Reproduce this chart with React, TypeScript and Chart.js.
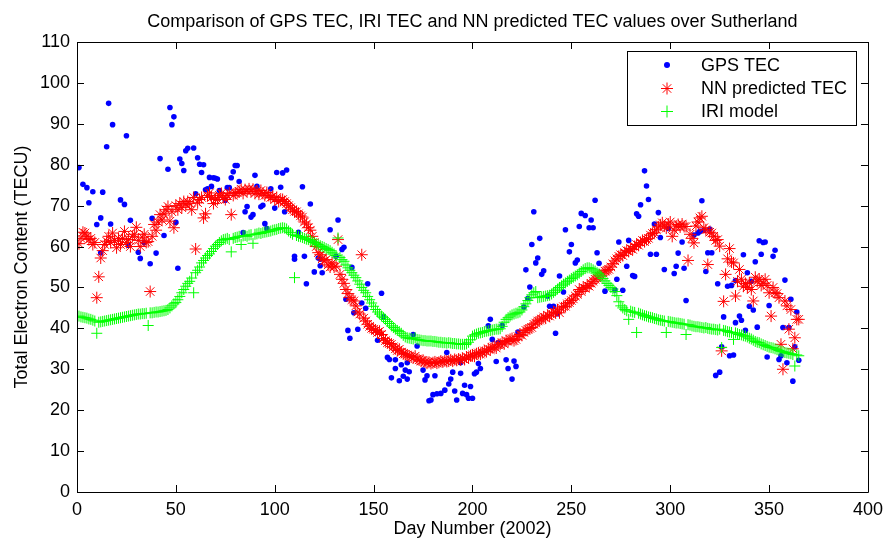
import { useEffect, useRef } from 'react';
import { Chart, registerables } from 'chart.js';

Chart.register(...registerables);

const FONT = '"Liberation Sans", Arial, Helvetica, sans-serif';

const titleText = 'Comparison of GPS TEC, IRI TEC and NN predicted TEC values over Sutherland';
const xTitle = 'Day Number (2002)';
const yTitle = 'Total Electron Content (TECU)';
const seriesNames = ['GPS TEC', 'NN predicted TEC', 'IRI model'];
const xTicks = [0, 50, 100, 150, 200, 250, 300, 350, 400];
const yTicks = [0, 10, 20, 30, 40, 50, 60, 70, 80, 90, 100, 110];

// GPS TEC observations: day numbers and values
const gpsDay = [
  1,3,5,6,8,10,12,12,13,15,
  16,17,18,22,24,25,26,27,31,32,
  34,37,38,40,42,44,46,47,48,49,
  50,51,52,53,54,55,56,59,60,61,
  62,63,64,65,66,67,68,69,70,71,
  72,75,76,77,78,79,80,81,82,84,
  85,86,88,89,90,91,93,94,95,96,
  98,100,101,103,104,105,106,110,110,112,
  114,115,116,118,120,122,123,123,124,128,
  131,132,134,135,136,137,138,139,140,142,
  144,146,147,152,154,155,157,158,159,161,
  161,163,164,165,166,167,167,168,170,172,
  175,176,177,178,179,180,181,182,184,186,
  187,188,189,190,191,192,194,194,195,196,
  197,198,199,200,201,202,203,204,208,209,
  210,212,213,215,217,218,220,221,222,223,
  226,227,228,229,230,231,232,233,234,235,
  236,238,239,241,242,243,244,246,247,249,
  250,252,253,254,255,257,259,260,261,262,
  263,264,267,272,273,274,276,278,279,281,
  282,283,284,285,287,288,289,290,292,293,
  294,295,297,299,302,303,304,306,307,308,
  312,314,315,316,317,318,319,320,321,323,
  324,325,326,327,329,330,331,332,333,333,
  335,336,337,338,339,340,341,342,343,344,
  345,346,347,348,349,350,352,353,355,356,
  357,358,359,360,361,362,363,364,365,
];
const gpsTec = [
  79.3,75.2,74.4,70.7,73.4,65.4,67,58.5,73.3,84.4,
  95,65.5,89.8,71.4,70.3,87.1,60.3,66.4,58.6,57.1,
  60.9,55.8,66.9,58.4,81.5,62.7,78.9,94,89.8,91.7,
  65.9,54.7,81.4,80.3,78.6,83.4,84,84.1,72.9,81.7,
  80.1,78.1,80,73.9,74.1,76.9,74.7,76.8,76.7,76.5,
  73.7,71.3,74.4,74.4,76.8,78.3,79.8,79.8,75.9,63.4,
  68.5,69.8,67.2,67.8,77.4,74.7,69.7,70.1,65.6,64.4,
  74.1,69.4,78.1,74.5,78,68.5,78.7,57.6,56.9,63.5,
  74.6,57.6,50.9,70.4,53.8,57.2,56.9,55.3,53.6,64.1,
  57.6,66.5,59.3,59.8,47.1,39.5,37.6,54.9,43.8,39.8,
  46.2,44.9,50.9,37.1,48.6,42.8,32.9,32.4,27.9,32.3,
  30.2,27.2,31.1,28.3,29.8,27.6,31.6,29.4,38.5,35.7,
  29.8,27.4,28.4,22.3,22.5,23.8,28.4,24,24.1,24.9,
  34.1,26.4,27.6,29.3,24.7,22.5,29,31.6,24.1,26.1,
  23.8,22.9,25.8,22.9,28.9,29.3,31.4,30.2,40.6,42.2,
  37.3,31.9,36.5,40.7,32.3,30.2,27.6,32,30.7,39.1,
  45.2,54.3,47.3,50.1,60.5,68.5,56,57.2,62,53.2,
  54.1,47.9,45.4,45.4,38.8,43.6,52.8,48.9,64.1,58.7,
  60.5,56,56.7,64.9,68.1,67.6,64.6,66.5,64.6,71.3,
  58.5,55.9,49.1,49.4,52,61.1,49.3,55.2,61.5,52.9,
  52.7,68,67.4,70.2,78.5,74.8,71.5,58.1,65.5,58.1,
  68.3,62.2,54.4,64.4,53.4,55.2,58.4,61.1,54.7,46.8,
  62.8,63.3,63.7,71.2,64,53.9,58.5,64.3,58.5,28.5,
  50.9,29.3,35.5,42.8,50.3,33.3,50.5,33.5,51.7,41.4,
  43,42,58,39.5,53.6,45.4,51.5,44.5,56.3,40.3,
  61.4,58.1,61,61.1,33,45.6,57.6,59.1,32.4,33.3,
  40.2,51.8,31.6,40.2,47.1,27.1,35.5,44,32.2,
];

// NN predicted TEC, one value per day starting at day 1
const nnTec = [
  60.7,62,63.5,63.3,62.5,61.7,62,60.5,61,47.5,
  52.6,57.2,59,60.5,61.3,62.5,61,63.3,61.5,59.7,
  62,60.5,62,63.7,61,61.7,60,62.5,63,64.7,
  61.5,60,62.3,63,61,61.2,49,62.5,65.4,64,
  66,67.8,66.5,68,69,69.8,66.2,68.5,64.6,70,
  69,70.5,69.5,71,70.2,71,70.5,69,72,59.4,
  70.7,71.5,72,67,68,72.5,73.1,72,70.5,71.5,
  71.5,72.5,73,72,71.5,72.5,73.1,67.8,72.5,73,
  73.2,73.5,74,73,73.9,73.5,74.1,73.5,74,73,
  73.5,72.8,73.7,73,72.5,73.2,72.5,72,72.3,71.5,
  72,71,71.3,71.5,71,70.5,70,69.5,69,68.6,
  68.5,68,67.5,67.2,66,65.5,64.6,64,62.5,61,
  60,58.5,58,57,56.5,56.8,55.5,55,56,55,
  55.2,61.7,53.2,52,51,49.5,48.5,47.5,47,46.7,
  45.5,44,43.5,58,42.5,41.8,41,40.5,40,39.8,
  39.5,39,39.3,38.5,37.5,37,36.5,36.3,36.1,35.5,
  35,34.6,34.9,34.2,33.8,33.7,33.5,33.2,33,32.8,
  33.2,32.5,32.3,32,32.2,31.8,31.5,31.7,31.4,31.6,
  31.8,31.5,31.7,32,31.8,32.1,31.9,32,32.3,32,
  32.4,32.2,32.5,32.3,32.7,32.4,33,32.8,33.3,33.5,
  33.2,33.8,34,33.7,34.1,34.5,34.3,35,34.8,35.3,
  35.5,35.2,36,36.1,36.5,36.2,37,36.8,37.3,37.5,
  37,37.3,38,38.5,38.3,39,39.5,39.8,40,40.2,
  41,41.3,41.8,42,42.3,42.8,42.5,43.2,43,43.5,
  44,43.8,44.5,43.8,45,45.3,45.4,46,46.3,46.8,
  47.2,47.9,48.3,49.5,49,50,49.8,50.5,50.3,51,
  51.5,52,52.3,52.8,53,53.5,54,54.2,54.4,55,
  55.8,56.5,57,57.6,58,57.8,58.5,59,58.8,59.5,
  59.3,60,60.5,60.3,61,61.5,61.2,61.7,62,62.8,
  63.2,63.5,64.1,64.8,65.3,65.8,65,64.5,65.5,66,
  62.5,64,65,65.4,64.8,65.5,64.9,64.9,56.6,63,
  62,60.9,65,66,67,67.4,64.6,64.1,55.6,63.5,
  63.3,62.5,61.5,61.7,60.1,34.5,46.6,53.2,57,59.5,
  56.2,56,47.9,51.5,54.4,52,50.3,51,50,51.1,
  49.5,46.7,52.5,51.5,52,50.5,51,52,50.5,48.7,
  43,50,48.7,48.5,47.5,36.1,30,46.7,45.5,39.8,
  44.6,35,37.7,42.2,42.2,
];

// IRI model TEC, one value per day starting at day 1
const iriTec = [
  43,42.8,42.7,42.6,42.5,42.3,42.2,42,41.8,38.8,
  41.5,41.6,41.7,41.8,41.9,42,42.1,42.2,42.3,42.4,
  42.5,42.6,42.7,42.8,42.9,43,43.1,43.2,43.3,43.4,
  43.5,43.5,43.6,43.6,43.7,40.7,43.8,43.8,43.9,44,
  44,44.1,44.2,44.3,44.4,44.6,45,45.5,46,46.3,
  47,47.8,48.7,49.5,50.3,51,51.5,52.3,48.7,53.6,
  54.2,55,56,56.6,57.2,57.8,58.2,58.8,59.5,60.1,
  60.5,61,61.4,61.7,61.8,62,61.7,58.7,62,62.2,
  62.3,62.5,60.5,62.6,62.7,62.5,62.8,62.9,60.8,63,
  63.1,63.3,63.2,63.4,63.5,63.6,63.7,63.8,64,64.1,
  64.2,64.4,64.5,64.6,64.5,64.3,63.8,63.4,63,52.4,
  62.7,62.5,62.4,62.2,62,61.8,61.7,61.5,61.2,61,
  60.7,60.5,60.2,60,59.8,59.5,59.3,59,58.6,58.2,
  57.8,62.1,57.3,56.8,56.4,55.5,54.8,54.2,53.6,53,
  52.4,51.6,50.8,50,49.3,48.7,47.8,47,46.2,45.4,
  44.6,44,43.5,43,42.6,42.2,41.7,41.2,40.6,40.2,
  39.8,39.5,39.2,38.8,38.3,37.9,37.7,37.6,37.5,37.4,
  37.7,37.3,37.2,37.1,37,37,36.9,36.9,36.9,36.8,
  36.8,36.7,36.6,36.6,36.5,36.5,36.4,36.5,36.4,36.3,
  36.3,36.2,36.2,36.1,36.1,36.1,36.2,36.6,37.2,38.1,
  38.4,38.6,38.8,38.9,39,39.2,39.3,39.4,39.5,39.6,
  39.7,39.8,39.8,39.9,40.5,41.5,42.2,42.6,43,43.3,
  43.5,43.7,43.8,44,44.5,45.3,46,46.8,47.5,48.2,
  48.7,49,47.5,47.6,47.7,47.8,47.9,48,48.1,48.4,
  48.8,49.2,49.6,50,50.4,50.8,51.1,51.5,51.8,52.2,
  52.5,52.8,53.1,53.5,53.9,54.3,54.6,54.8,54.8,54.6,
  54.3,54,53.6,53.3,52.8,52.2,51.6,51,50.5,50,
  49.6,49,48,46.5,45.5,45,44.6,44.3,42.2,44.2,
  44,43.9,39,43.7,43.5,43.3,43.1,43,42.8,42.7,
  42.6,42.4,42.3,42.1,42,41.9,41.8,39,41.7,41.6,
  41.5,41.4,41.3,41.3,41.2,41.1,41,38.5,40.9,40.8,
  40.6,40.5,40.4,40.4,40.3,40.2,40.1,40.2,40,39.9,
  39.8,39.8,39.7,39.6,39.8,35.3,39.5,39.4,39.2,39.1,
  39,37.3,38.9,38.7,38.5,38.4,38.2,38.1,37.9,37.6,
  37.4,37.1,36.8,36.6,36.5,36.2,36,35.8,35.6,35.4,
  35.3,35.2,35,34.8,34.6,34.4,34.3,34.1,34,33.9,
  33.8,33.6,30.8,33.5,33.3,
];

const BLUE = '#0000ff';
const RED = '#ff0000';
const GREEN = '#00ff00';

function drawMarker(ctx: CanvasRenderingContext2D, kind: string, x: number, y: number) {
  ctx.save();
  ctx.lineWidth = 1;
  if (kind === 'dot') {
    ctx.fillStyle = BLUE;
    ctx.beginPath();
    ctx.arc(x, y, 3, 0, Math.PI * 2);
    ctx.fill();
  } else if (kind === 'star') {
    ctx.strokeStyle = RED;
    const r = 6;
    const d = r * Math.SQRT1_2;
    ctx.beginPath();
    ctx.moveTo(x - r, y); ctx.lineTo(x + r, y);
    ctx.moveTo(x, y - r); ctx.lineTo(x, y + r);
    ctx.moveTo(x - d, y - d); ctx.lineTo(x + d, y + d);
    ctx.moveTo(x - d, y + d); ctx.lineTo(x + d, y - d);
    ctx.stroke();
  } else {
    ctx.strokeStyle = GREEN;
    const r = 6;
    ctx.beginPath();
    ctx.moveTo(x - r, y); ctx.lineTo(x + r, y);
    ctx.moveTo(x, y - r); ctx.lineTo(x, y + r);
    ctx.stroke();
  }
  ctx.restore();
}

const framePlugin = {
  id: 'matlabFrame',
  afterDraw(chart: any) {
    const { ctx, chartArea, scales } = chart;
    const { left, right, top, bottom } = chartArea;
    const xs = scales.x;
    const ys = scales.y;
    ctx.save();
    // box
    ctx.strokeStyle = '#000';
    ctx.lineWidth = 1;
    ctx.beginPath();
    ctx.rect(Math.round(left) + 0.5, Math.round(top) + 0.5, Math.round(right - left), Math.round(bottom - top));
    ctx.stroke();
    // inward ticks
    const tl = 7;
    ctx.beginPath();
    xTicks.forEach((v) => {
      const px = Math.round(xs.getPixelForValue(v)) + 0.5;
      ctx.moveTo(px, bottom); ctx.lineTo(px, bottom - tl);
      ctx.moveTo(px, top); ctx.lineTo(px, top + tl);
    });
    yTicks.forEach((v) => {
      const py = Math.round(ys.getPixelForValue(v)) + 0.5;
      ctx.moveTo(left, py); ctx.lineTo(left + tl, py);
      ctx.moveTo(right, py); ctx.lineTo(right - tl, py);
    });
    ctx.stroke();

    // title
    ctx.fillStyle = '#000';
    ctx.font = `18px ${FONT}`;
    ctx.textAlign = 'center';
    ctx.textBaseline = 'alphabetic';
    const cx = (left + right) / 2;
    ctx.fillText(titleText, cx, 27);
    // x title
    ctx.fillText(xTitle, cx, 534);
    // y title
    ctx.save();
    ctx.translate(27, (top + bottom) / 2);
    ctx.rotate(-Math.PI / 2);
    ctx.fillText(yTitle, 0, 0);
    ctx.restore();

    // legend
    const bx = 627.5, by = 51.5, bw = 229, bh = 74;
    ctx.fillStyle = '#fff';
    ctx.fillRect(bx, by, bw, bh);
    ctx.strokeStyle = '#000';
    ctx.strokeRect(bx, by, bw, bh);
    const rows = [65, 88.5, 111.5];
    const kinds = ['dot', 'star', 'cross'];
    ctx.fillStyle = '#000';
    ctx.textAlign = 'left';
    ctx.textBaseline = 'middle';
    rows.forEach((ry, i) => {
      drawMarker(ctx, kinds[i], 667, ry);
      ctx.fillStyle = '#000';
      ctx.fillText(seriesNames[i], 701, ry + 1);
    });
    ctx.restore();
  },
};

export default function App() {
  const ref = useRef<HTMLCanvasElement | null>(null);
  useEffect(() => {
    document.body.style.margin = '0';
    const canvas = ref.current;
    if (!canvas) return;
    const gpsPoints = gpsDay.map((d, i) => ({ x: d, y: gpsTec[i] }));
    const nnPoints = nnTec.map((v, i) => ({ x: i + 1, y: v }));
    const iriPoints = iriTec.map((v, i) => ({ x: i + 1, y: v }));
    const tickFont = { family: FONT, size: 18 };
    const chart = new Chart(canvas, {
      type: 'scatter',
      data: {
        datasets: [
          {
            label: seriesNames[0],
            data: gpsPoints,
            pointStyle: 'circle',
            pointRadius: 2.8,
            pointBorderWidth: 0,
            backgroundColor: BLUE,
            borderColor: BLUE,
            order: 2,
          },
          {
            label: seriesNames[1],
            data: nnPoints,
            pointStyle: 'star',
            pointRadius: 6,
            pointBorderWidth: 1,
            backgroundColor: RED,
            borderColor: RED,
            order: 1,
          },
          {
            label: seriesNames[2],
            data: iriPoints,
            pointStyle: 'cross',
            pointRadius: 5.5,
            pointBorderWidth: 1,
            backgroundColor: GREEN,
            borderColor: GREEN,
            order: 0,
          },
        ],
      },
      options: {
        animation: false,
        responsive: false,
        events: [],
        layout: { padding: { top: 42, right: 18, left: 0, bottom: 0 } },
        plugins: {
          legend: { display: false },
          title: { display: false },
          tooltip: { enabled: false },
        },
        scales: {
          x: {
            type: 'linear',
            min: 0,
            max: 400,
            ticks: { stepSize: 50, color: '#000', font: tickFont, padding: 7, maxRotation: 0, autoSkip: false },
            grid: { display: false, drawTicks: false },
            border: { display: false },
            afterFit: (s: any) => { s.height = 50; },
          },
          y: {
            type: 'linear',
            min: 0,
            max: 110,
            ticks: { stepSize: 10, color: '#000', font: tickFont, padding: 7, autoSkip: false },
            grid: { display: false, drawTicks: false },
            border: { display: false },
            afterFit: (s: any) => { s.width = 77; },
          },
        },
      },
      plugins: [framePlugin],
    } as any);
    return () => chart.destroy();
  }, []);
  return (
    <div style={{ width: 890, height: 542 }}>
      <canvas ref={ref} width={890} height={542} style={{ display: 'block', width: 890, height: 542 }} />
    </div>
  );
}
